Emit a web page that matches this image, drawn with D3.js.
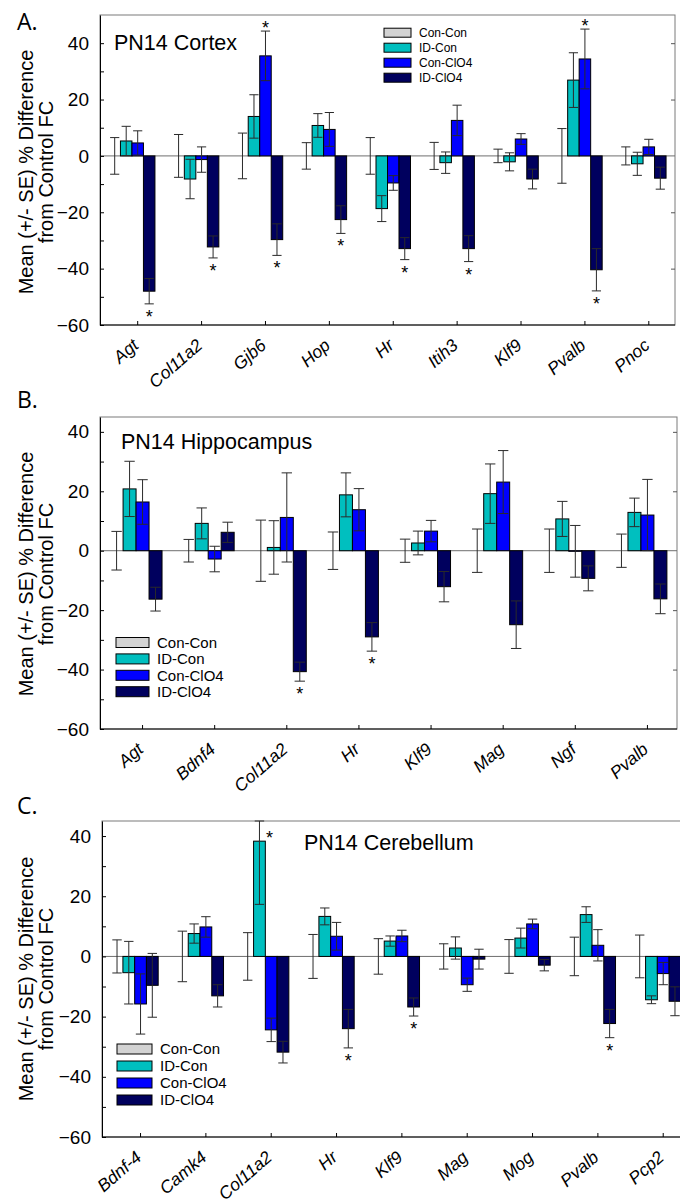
<!DOCTYPE html>
<html>
<head>
<meta charset="utf-8">
<script src="https://cdn.jsdelivr.net/npm/d3@7"></script>
<style>
  body { margin: 0; background: #fff; }
  svg { display: block; font-family: "Liberation Sans", Arial, sans-serif; }
</style>
</head>
<body>
<svg id="chart" width="680" height="1202"></svg>
<script>
const series = ["Con-Con", "ID-Con", "Con-ClO4", "ID-ClO4"];
const colors = ["#d3d3d3", "#00bfbf", "#0000ff", "#00005e"];
const yTicks = [40, 20, 0, -20, -40, -60];
const yMinorTicks = [30, 10, -10, -30, -50];

// A. cortex
const cortexGenes = ["Agt", "Col11a2", "Gjb6", "Hop", "Hr", "Itih3", "Klf9", "Pvalb", "Pnoc"];
const cortexConCon = [0, 0, 0, 0, 0, 0, 0, 0, 0];
const cortexConConSe = [6.5, 7.6, 8.1, 4.7, 6.5, 4.8, 2.4, 9.7, 3.2];
const cortexIdCon = [5.3, -8.2, 14.0, 10.8, -18.7, -2.4, -2.1, 26.9, -2.8];
const cortexIdConSe = [5.2, 7.0, 7.7, 4.2, 4.6, 3.8, 3.2, 9.7, 4.1];
const cortexConClo4 = [4.6, -1.3, 35.5, 9.4, -9.6, 12.6, 6.0, 34.4, 3.2];
const cortexConClo4Se = [4.3, 4.5, 8.8, 6.0, 2.6, 5.4, 1.9, 10.6, 2.7];
const cortexIdClo4 = [-48.0, -32.3, -29.7, -22.6, -32.9, -32.9, -8.2, -40.4, -7.9];
const cortexIdClo4Se = [4.5, 3.9, 5.6, 4.9, 3.9, 4.6, 3.5, 7.5, 3.9];
const cortexStars = [["Agt", "ID-ClO4"], ["Col11a2", "ID-ClO4"], ["Gjb6", "Con-ClO4"], ["Gjb6", "ID-ClO4"],
  ["Hop", "ID-ClO4"], ["Hr", "ID-ClO4"], ["Itih3", "ID-ClO4"], ["Pvalb", "Con-ClO4"], ["Pvalb", "ID-ClO4"]];

// B. hippocampus
const hippoGenes = ["Agt", "Bdnf4", "Col11a2", "Hr", "Klf9", "Mag", "Ngf", "Pvalb"];
const hippoConCon = [0, 0, 0, 0, 0, 0, 0, 0];
const hippoConConSe = [6.5, 3.8, 10.3, 6.3, 3.9, 7.3, 7.3, 5.6];
const hippoIdCon = [20.8, 9.2, 1.1, 18.8, 2.6, 19.2, 10.7, 12.9];
const hippoIdConSe = [9.3, 5.2, 9.0, 7.4, 4.0, 10.0, 5.9, 4.8];
const hippoConClo4 = [16.4, -2.8, 11.2, 13.8, 6.6, 23.1, -0.2, 12.0];
const hippoConClo4Se = [7.5, 4.3, 15.0, 7.1, 3.6, 10.6, 8.7, 12.0];
const hippoIdClo4 = [-16.3, 6.2, -40.7, -29.0, -12.1, -24.9, -9.3, -16.2];
const hippoIdClo4Se = [4.0, 3.4, 3.2, 4.8, 5.1, 8.0, 4.2, 5.0];
const hippoStars = [["Col11a2", "ID-ClO4"], ["Hr", "ID-ClO4"]];

// C. cerebellum
const cerebGenes = ["Bdnf-4", "Camk4", "Col11a2", "Hr", "Klf9", "Mag", "Mog", "Pvalb", "Pcp2"];
const cerebConCon = [0, 0, 0, 0, 0, 0, 0, 0, 0];
const cerebConConSe = [5.5, 8.4, 7.9, 7.3, 5.9, 4.2, 5.6, 6.4, 7.1];
const cerebIdCon = [-5.4, 7.6, 38.3, 13.3, 5.1, 2.8, 6.1, 13.9, -14.4];
const cerebIdConSe = [10.4, 3.2, 21.0, 2.8, 1.7, 3.7, 3.3, 2.6, 1.3];
const cerebConClo4 = [-15.8, 9.8, -24.4, 6.7, 6.8, -9.4, 10.8, 3.7, -5.7];
const cerebConClo4Se = [10.0, 3.4, 3.9, 4.6, 1.9, 2.2, 1.6, 5.2, 3.7];
const cerebIdClo4 = [-9.6, -13.1, -31.8, -24.0, -16.8, -0.9, -2.9, -22.3, -14.9];
const cerebIdClo4Se = [10.6, 3.7, 3.6, 6.4, 3.0, 3.3, 1.9, 4.7, 4.8];
const cerebStars = [["Col11a2", "ID-Con"], ["Hr", "ID-ClO4"], ["Klf9", "ID-ClO4"], ["Pvalb", "ID-ClO4"]];

const panels = [
  {
    letter: "A.", letterY: 30, title: "PN14 Cortex", titleX: 114, titleY: 50,
    genes: cortexGenes,
    means: [cortexConCon, cortexIdCon, cortexConClo4, cortexIdClo4],
    ses: [cortexConConSe, cortexIdConSe, cortexConClo4Se, cortexIdClo4Se],
    stars: cortexStars,
    box: { l: 100, r: 675, t: 15, b: 325 }, yMax: 50, labelY: 172,
    legend: { x: 384, y: 32.7, w: 27, h: 9, gap: 15, tx: 419, fs: 12 },
  },
  {
    letter: "B.", letterY: 408, title: "PN14 Hippocampus", titleX: 121, titleY: 449,
    genes: hippoGenes,
    means: [hippoConCon, hippoIdCon, hippoConClo4, hippoIdClo4],
    ses: [hippoConConSe, hippoIdConSe, hippoConClo4Se, hippoIdClo4Se],
    stars: hippoStars,
    box: { l: 100, r: 677, t: 417, b: 729 }, yMax: 45, labelY: 574,
    legend: { x: 116, y: 642.5, w: 33, h: 10, gap: 16.4, tx: 157, fs: 15 },
  },
  {
    letter: "C.", letterY: 814, title: "PN14 Cerebellum", titleX: 304, titleY: 850,
    genes: cerebGenes,
    means: [cerebConCon, cerebIdCon, cerebConClo4, cerebIdClo4],
    ses: [cerebConConSe, cerebIdConSe, cerebConClo4Se, cerebIdClo4Se],
    stars: cerebStars,
    box: { l: 102, r: 690, t: 821, b: 1137 }, yMax: 45, labelY: 979,
    legend: { x: 117, y: 1049, w: 35, h: 10, gap: 17, tx: 160, fs: 15 },
  },
];

const svg = d3.select("#chart");

const drawPanel = (p) => {
  const { l, r, t, b } = p.box;
  const x = d3.scaleBand().domain(p.genes).range([l, r]);
  const step = x.step();
  const bw = step * 0.18;
  const off = step * 0.14;
  const y = d3.scaleLinear().domain([-60, p.yMax]).range([b, t]).clamp(true);
  const g = svg.append("g");

  g.append("rect")
    .attr("x", l).attr("y", t)
    .attr("width", r - l).attr("height", b - t)
    .attr("fill", "none").attr("stroke", "#7a7a7a");

  g.append("line")
    .attr("x1", l).attr("x2", r)
    .attr("y1", y(0)).attr("y2", y(0))
    .attr("stroke", "#6e6e6e");

  const rows = p.genes.flatMap((gene, i) => series.map((s, j) => ({
    gene, j, m: p.means[j][i], se: p.ses[j][i],
    cx: x(gene) + off + (j + 0.5) * bw,
  })));

  g.selectAll("rect.bar")
    .data(rows.filter((d) => d.m !== 0))
    .join("rect")
    .attr("class", "bar")
    .attr("x", (d) => x(d.gene) + off + d.j * bw)
    .attr("y", (d) => y(Math.max(0, d.m)))
    .attr("width", bw)
    .attr("height", (d) => Math.abs(y(d.m) - y(0)))
    .attr("fill", (d) => colors[d.j])
    .attr("stroke", "#000");

  const cap = bw * 0.4;
  const eb = g.selectAll("g.err").data(rows).join("g")
    .attr("class", "err")
    .attr("stroke", "#2a2a2a");
  eb.append("line")
    .attr("x1", (d) => d.cx).attr("x2", (d) => d.cx)
    .attr("y1", (d) => y(d.m + d.se)).attr("y2", (d) => y(d.m - d.se));
  eb.append("line")
    .attr("x1", (d) => d.cx - cap).attr("x2", (d) => d.cx + cap)
    .attr("y1", (d) => y(d.m + d.se)).attr("y2", (d) => y(d.m + d.se));
  eb.append("line")
    .attr("x1", (d) => d.cx - cap).attr("x2", (d) => d.cx + cap)
    .attr("y1", (d) => y(d.m - d.se)).attr("y2", (d) => y(d.m - d.se));

  // significance stars
  g.selectAll("text.star")
    .data(p.stars.map(([gene, s]) => rows.find((d) => d.gene === gene && d.j === series.indexOf(s))))
    .join("text")
    .attr("class", "star")
    .attr("text-anchor", "middle")
    .attr("font-size", 18)
    .attr("x", (d) => (d.m + d.se > p.yMax ? d.cx + 10 : d.cx))
    .attr("y", (d) => {
      if (d.m < 0) return y(d.m - d.se) + 19;
      if (d.m + d.se > p.yMax) return t + 23;
      return y(d.m + d.se) + 3;
    })
    .text("*");

  // axes
  const yAxis = g.append("g")
    .attr("transform", `translate(${l},0)`)
    .call(d3.axisLeft(y).tickValues(yTicks).tickSizeInner(-4).tickSizeOuter(0).tickPadding(11));
  yAxis.selectAll("text").attr("font-size", 19).attr("font-family", null).attr("fill", "#000");
  yAxis.select(".domain").attr("stroke", "#000");

  g.append("g")
    .attr("transform", `translate(${l},0)`)
    .call(d3.axisLeft(y).tickValues(yMinorTicks).tickSize(-4).tickFormat(""))
    .call((a) => a.select(".domain").remove());

  g.append("g")
    .attr("transform", `translate(${r},0)`)
    .call(d3.axisRight(y).tickValues([40, 20, -20, -40]).tickSize(-4).tickFormat(""))
    .call((a) => a.select(".domain").remove())
    .selectAll("line").attr("stroke", "#555");

  const xAxis = g.append("g")
    .attr("transform", `translate(${step * 0.09},${b})`)
    .call(d3.axisBottom(x).tickSizeInner(-4).tickSizeOuter(0));
  xAxis.select(".domain").remove();
  xAxis.selectAll("text")
    .attr("y", 0).attr("dy", 0)
    .attr("font-size", 17.5).attr("font-family", null).attr("font-style", "italic")
    .attr("fill", "#000")
    .attr("text-anchor", "end")
    .attr("transform", "translate(2,22) rotate(-41)");

  g.append("line")
    .attr("x1", l).attr("x2", r)
    .attr("y1", b).attr("y2", b)
    .attr("stroke", "#000");

  // labels
  g.append("text")
    .attr("x", 17).attr("y", p.letterY)
    .attr("font-family", "'Open Sans', sans-serif")
    .attr("font-size", 23)
    .text(p.letter);

  g.append("text")
    .attr("x", p.titleX).attr("y", p.titleY)
    .attr("font-size", 21.5)
    .text(p.title);

  g.selectAll("text.ylab")
    .data(["Mean (+/- SE) % Difference", "from Control FC"])
    .join("text")
    .attr("class", "ylab")
    .attr("text-anchor", "middle")
    .attr("font-size", 20)
    .attr("transform", (d, i) => `translate(${33 + i * 20},${p.labelY}) rotate(-90)`)
    .text((d) => d);

  // legend
  const lg = g.append("g");
  const item = lg.selectAll("g").data(series).join("g")
    .attr("transform", (d, i) => `translate(0,${p.legend.y + i * p.legend.gap})`);
  item.append("rect")
    .attr("x", p.legend.x).attr("y", -p.legend.h / 2)
    .attr("width", p.legend.w).attr("height", p.legend.h)
    .attr("fill", (d, i) => colors[i])
    .attr("stroke", "#000");
  item.append("text")
    .attr("x", p.legend.tx).attr("y", 0)
    .attr("dy", "0.36em")
    .attr("font-size", p.legend.fs)
    .text((d) => d);
};

panels.forEach(drawPanel);
</script>
</body>
</html>
